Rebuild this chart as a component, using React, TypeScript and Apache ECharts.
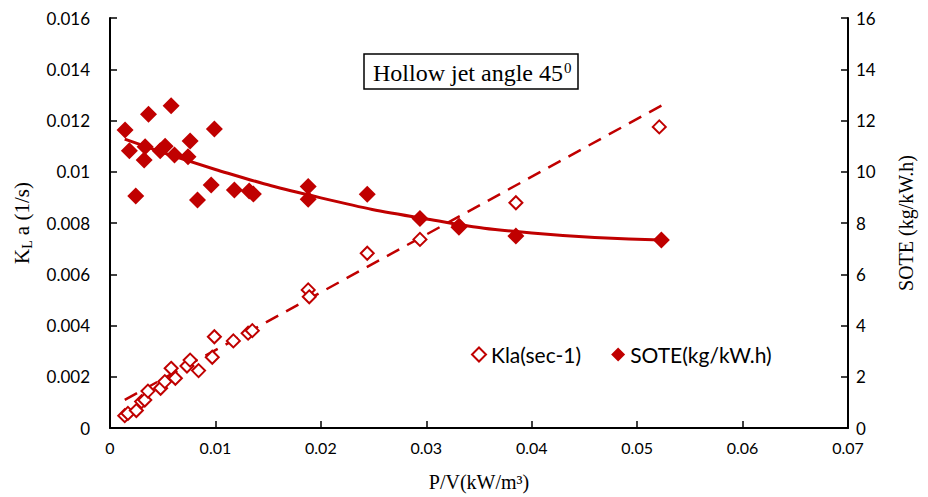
import React, { useEffect, useRef } from "react";
import * as echarts from "echarts";

const klaX = [0.0014, 0.0017, 0.0025, 0.003, 0.0033, 0.0036, 0.0048, 0.0052, 0.0058, 0.0062, 0.0073, 0.0076, 0.0084, 0.0097, 0.0099, 0.0117, 0.0131, 0.0135, 0.0188, 0.0189, 0.0244, 0.0294, 0.0331, 0.0385, 0.0521];
const klaY = [0.00048, 0.00057, 0.00068, 0.00103, 0.00109, 0.00144, 0.00155, 0.00181, 0.00233, 0.00194, 0.00242, 0.00265, 0.00224, 0.00276, 0.00356, 0.0034, 0.0037, 0.0038, 0.00539, 0.00512, 0.00682, 0.00736, 0.0079, 0.00879, 0.01175];

const soteX = [0.00143, 0.00184, 0.00244, 0.00324, 0.00333, 0.00365, 0.00476, 0.00523, 0.0058, 0.00612, 0.0074, 0.0076, 0.0083, 0.0096, 0.0099, 0.0118, 0.0132, 0.0136, 0.0188, 0.0188, 0.0244, 0.0294, 0.0331, 0.0385, 0.0523];
const soteY = [11.63, 10.82, 9.05, 10.46, 10.98, 12.24, 10.82, 11.0, 12.58, 10.65, 10.59, 11.2, 8.9, 9.48, 11.67, 9.29, 9.25, 9.13, 9.42, 8.93, 9.12, 8.18, 7.83, 7.49, 7.34];

// trendlines
const klaTrend = [[0.0014, 0.0011], [0.0523, 0.01258]];
const soteTrend = [[0.0014, 11.27], [0.01, 10.09], [0.02, 8.98], [0.03, 8.16], [0.04, 7.61], [0.0523, 7.34]];

const xTicks = [0, 0.01, 0.02, 0.03, 0.04, 0.05, 0.06, 0.07];

const RED = "#C00000";
const SERIF = "'Liberation Serif', 'DejaVu Serif', serif";
const SANS = "Lato, 'Open Sans', sans-serif";

export default function App() {
  const ref = useRef<HTMLDivElement>(null);
  useEffect(() => {
    const chart = echarts.init(ref.current!, null, { renderer: "svg" });
    const axisLine = { show: true, lineStyle: { color: "#000", width: 2 } };
    const tick = { show: true, inside: true, length: 7, lineStyle: { color: "#000", width: 1.5 } };
    chart.setOption({
      animation: false,
      backgroundColor: "#fff",
      title: {
        text: "{t|Hollow jet angle 45}{s|0}",
        left: 364,
        top: 54,
        borderColor: "#000",
        borderWidth: 1.5,
        padding: [6, 7, 5, 9],
        textStyle: {
          rich: {
            t: { fontFamily: SERIF, fontSize: 24, fontWeight: "normal", color: "#000" },
            s: { fontFamily: SERIF, fontSize: 15, fontWeight: "normal", color: "#000", verticalAlign: "top", padding: [0, 0, 10, 1] },
          },
        },
      },
      legend: {
        left: 466,
        top: 339,
        itemGap: 30,
        itemWidth: 14,
        itemHeight: 14,
        textStyle: { fontFamily: SANS, fontSize: 21, color: "#000" },
        data: [
          { name: "Kla(sec-1)", icon: "diamond", itemStyle: { color: "#fff", borderColor: RED, borderWidth: 2 } },
          { name: "SOTE(kg/kW.h)", icon: "diamond", itemStyle: { color: RED } },
        ],
      },
      grid: { left: 110, right: 80, top: 18, bottom: 69 },
      xAxis: {
        type: "value",
        min: 0,
        max: 0.07,
        interval: 0.01,
        axisLine,
        axisTick: tick,
        splitLine: { show: false },
        axisLabel: {
          fontFamily: SANS,
          fontSize: 16,
          color: "#000",
          margin: 11,
          formatter: (v: number) => {
            const t = xTicks.find((k) => Math.abs(k - v) < 1e-9);
            return t === undefined ? "" : String(+t.toFixed(2));
          },
        },
        name: "P/V(kW/m³)",
        nameLocation: "middle",
        nameGap: 44,
        nameTextStyle: { fontFamily: SERIF, fontSize: 20, color: "#000" },
      },
      yAxis: [
        {
          type: "value",
          min: 0,
          max: 0.016,
          interval: 0.002,
          axisLine,
          axisTick: tick,
          splitLine: { show: false },
          axisLabel: {
            fontFamily: SANS,
            fontSize: 17,
            color: "#000",
            margin: 20,
            formatter: (v: number) => String(+v.toFixed(3)),
          },
          name: "{k|K}{l|L}{n|a (1/s)}",
          nameLocation: "middle",
          nameGap: 76,
          nameRotate: 90,
          nameTextStyle: {
            rich: {
              k: { fontFamily: SERIF, fontSize: 21, color: "#000" },
              l: { fontFamily: SERIF, fontSize: 14, color: "#000", verticalAlign: "bottom", padding: [10, 5, 0, 0] },
              n: { fontFamily: SERIF, fontSize: 21, color: "#000" },
            },
          },
        },
        {
          type: "value",
          min: 0,
          max: 16,
          interval: 2,
          position: "right",
          axisLine,
          axisTick: tick,
          splitLine: { show: false },
          axisLabel: { fontFamily: SANS, fontSize: 17, color: "#000", margin: 8 },
          name: "SOTE (kg/kW.h)",
          nameLocation: "middle",
          nameGap: 48,
          nameRotate: 90,
          nameTextStyle: { fontFamily: SERIF, fontSize: 20, color: "#000" },
        },
      ],
      series: [
        {
          name: "Kla trend",
          type: "line",
          yAxisIndex: 0,
          data: klaTrend,
          symbol: "none",
          lineStyle: { color: RED, width: 2.5, type: [14, 9] },
          silent: true,
          z: 1,
        },
        {
          name: "Kla(sec-1)",
          type: "scatter",
          yAxisIndex: 0,
          data: klaX.map((x, i) => [x, klaY[i]]),
          symbol: "diamond",
          symbolSize: 13,
          itemStyle: { color: "#fff", borderColor: RED, borderWidth: 2, opacity: 1 },
          z: 2,
        },
        {
          name: "SOTE trend",
          type: "line",
          yAxisIndex: 1,
          data: soteTrend,
          smooth: true,
          symbol: "none",
          lineStyle: { color: RED, width: 3 },
          silent: true,
          z: 3,
        },
        {
          name: "SOTE(kg/kW.h)",
          type: "scatter",
          yAxisIndex: 1,
          data: soteX.map((x, i) => [x, soteY[i]]),
          symbol: "diamond",
          symbolSize: 17,
          itemStyle: { color: RED, opacity: 1 },
          z: 4,
        },
      ],
    });
    return () => chart.dispose();
  }, []);
  return <div ref={ref} style={{ width: 928, height: 497, position: "absolute", left: 0, top: 0 }} />;
}
